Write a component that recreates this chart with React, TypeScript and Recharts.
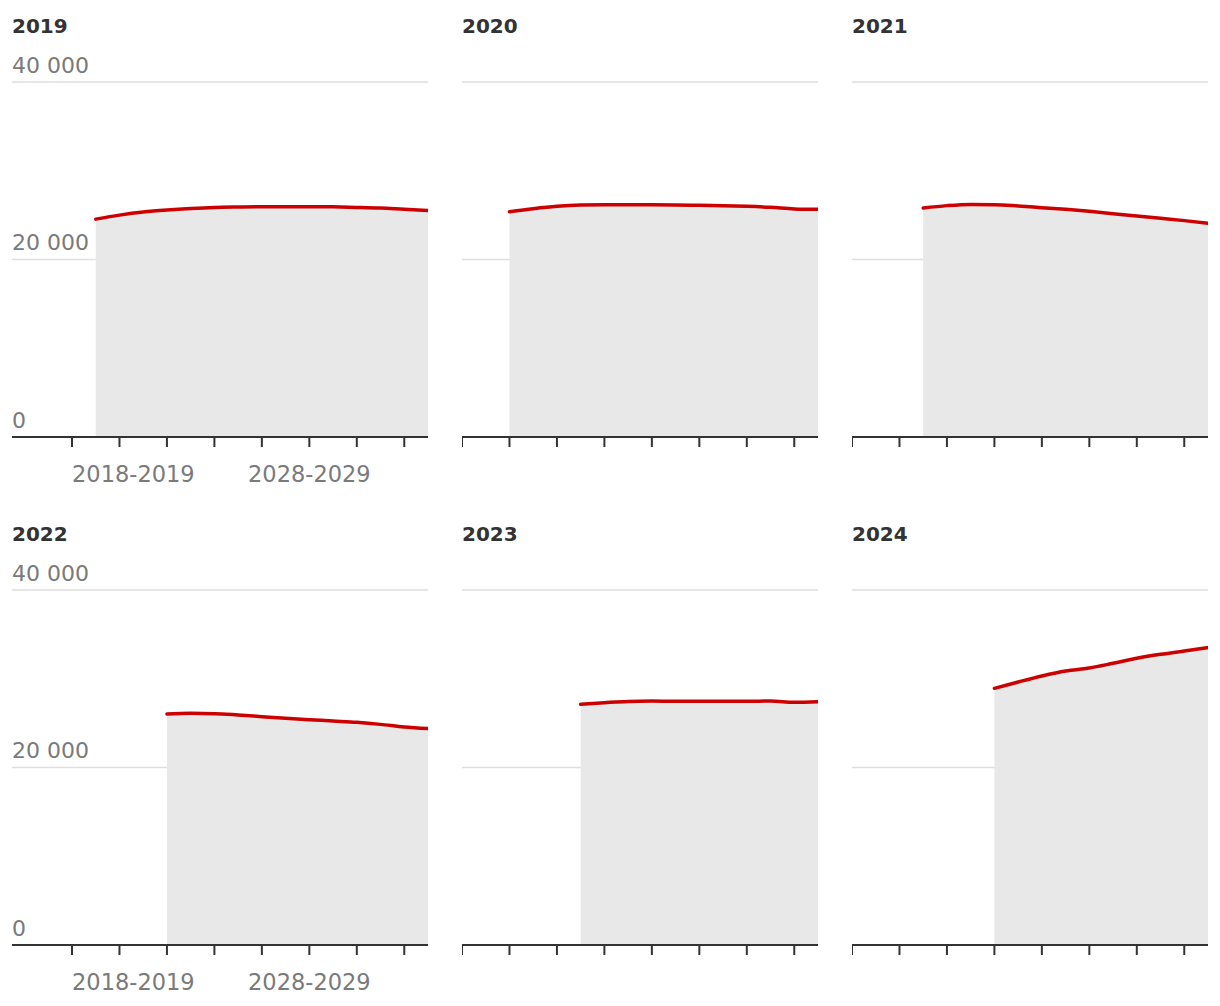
import { ComposedChart, Area, XAxis, YAxis, CartesianGrid } from 'recharts';

const FONT = '"DejaVu Sans", Verdana, sans-serif';

// forecast years (each series ends in 2033)
const YEARS = [2019, 2020, 2021, 2022, 2023, 2024, 2025, 2026, 2027, 2028, 2029, 2030, 2031, 2032, 2033];
const X_TICKS = [2018, 2020, 2022, 2024, 2026, 2028, 2030, 2032];
const X_LABELS: Record<number, string> = { 2018: '2018-2019', 2028: '2028-2029' };
const Y_TICKS = [0, 20000, 40000];

const forecast2019 = [24550, 25000, 25350, 25580, 25750, 25870, 25920, 25950, 25950, 25950, 25930, 25870, 25790, 25650, 25520];
const forecast2020 = [25380, 25720, 25990, 26140, 26180, 26180, 26170, 26140, 26100, 26060, 25990, 25880, 25700, 25650];
const forecast2021 = [25800, 26070, 26210, 26180, 26030, 25840, 25650, 25430, 25160, 24900, 24640, 24380, 24080];
const forecast2022 = [26030, 26100, 26070, 25920, 25730, 25540, 25390, 25240, 25090, 24860, 24560, 24380];
const forecast2023 = [27120, 27300, 27450, 27490, 27460, 27460, 27460, 27460, 27490, 27350, 27420];
const forecast2024 = [28920, 29630, 30310, 30870, 31210, 31740, 32300, 32750, 33130, 33500];

const panels = [
  { title: '2019', values: forecast2019, col: 0, row: 0 },
  { title: '2020', values: forecast2020, col: 1, row: 0 },
  { title: '2021', values: forecast2021, col: 2, row: 0 },
  { title: '2022', values: forecast2022, col: 0, row: 1 },
  { title: '2023', values: forecast2023, col: 1, row: 1 },
  { title: '2024', values: forecast2024, col: 2, row: 1 },
];

const COL_LEFT = [12, 462, 852];
const ROW_TOP = [82, 590];
const PLOT_H = 355;
const AXIS_H = 55;
const TOP_PAD = 32;

const fmt = (v: number) => String(v).replace(/\B(?=(\d{3})+(?!\d))/g, ' ');

function Panel({ title, values, col, row }: { title: string; values: number[]; col: number; row: number }) {
  const first = col === 0;
  const width = first ? 416 : 356;
  // first column has 60px extra on the left for the y labels
  const domain: [number, number] = first ? [2018 - (60 * 15) / 356, 2033] : [2018, 2033];
  const data = values.map((v, i) => ({ year: YEARS[YEARS.length - values.length + i], value: v }));
  const left = COL_LEFT[col];
  const top = ROW_TOP[row];

  const yTick = (p: any) =>
    first ? (
      <text x={0} y={p.y - 9.5} fill="#7a7a7a" fontSize={22} fontFamily={FONT} textAnchor="start">
        {fmt(p.payload.value)}
      </text>
    ) : (
      <g />
    );

  const xTick = (p: any) => {
    const label = first ? X_LABELS[p.payload.value] : undefined;
    if (!label) return <g />;
    return (
      <text
        x={p.x}
        y={TOP_PAD + PLOT_H + 45}
        fill="#7a7a7a"
        fontSize={22.5}
        fontFamily={FONT}
        textAnchor={p.payload.value === 2018 ? 'start' : 'middle'}
      >
        {label}
      </text>
    );
  };

  return (
    <>
      <div
        style={{
          position: 'absolute',
          left,
          top: top - 66,
          fontFamily: FONT,
          fontWeight: 'bold',
          fontSize: 20,
          lineHeight: '20px',
          color: '#333',
        }}
      >
        {title}
      </div>
      <div style={{ position: 'absolute', left, top: top - TOP_PAD }}>
        <ComposedChart
          width={width}
          height={TOP_PAD + PLOT_H + AXIS_H}
          data={data}
          margin={{ top: TOP_PAD, right: 0, bottom: 0, left: 0 }}
        >
          <CartesianGrid vertical={false} stroke="#dedede" strokeWidth={1.5} />
          <XAxis
            dataKey="year"
            type="number"
            domain={domain}
            allowDataOverflow
            ticks={X_TICKS}
            height={AXIS_H}
            tickSize={10}
            axisLine={{ stroke: '#333', strokeWidth: 2 }}
            tickLine={{ stroke: '#333', strokeWidth: 2 }}
            tick={xTick}
            interval={0}
          />
          <YAxis
            domain={[0, 40000]}
            ticks={Y_TICKS}
            mirror
            width={60}
            axisLine={false}
            tickLine={false}
            tick={yTick}
            interval={0}
            allowDataOverflow
          />
          <Area
            type="monotone"
            dataKey="value"
            fill="#e8e8e8"
            fillOpacity={1}
            stroke="#cc0000"
            strokeWidth={3.5}
            strokeLinecap="round"
            isAnimationActive={false}
          />
        </ComposedChart>
      </div>
    </>
  );
}

export default function App() {
  return (
    <div
      style={{
        position: 'absolute',
        left: 0,
        top: 0,
        width: 1220,
        height: 1006,
        overflow: 'hidden',
        background: '#fff',
      }}
    >
      {panels.map((p) => (
        <Panel key={p.title} {...p} />
      ))}
    </div>
  );
}
